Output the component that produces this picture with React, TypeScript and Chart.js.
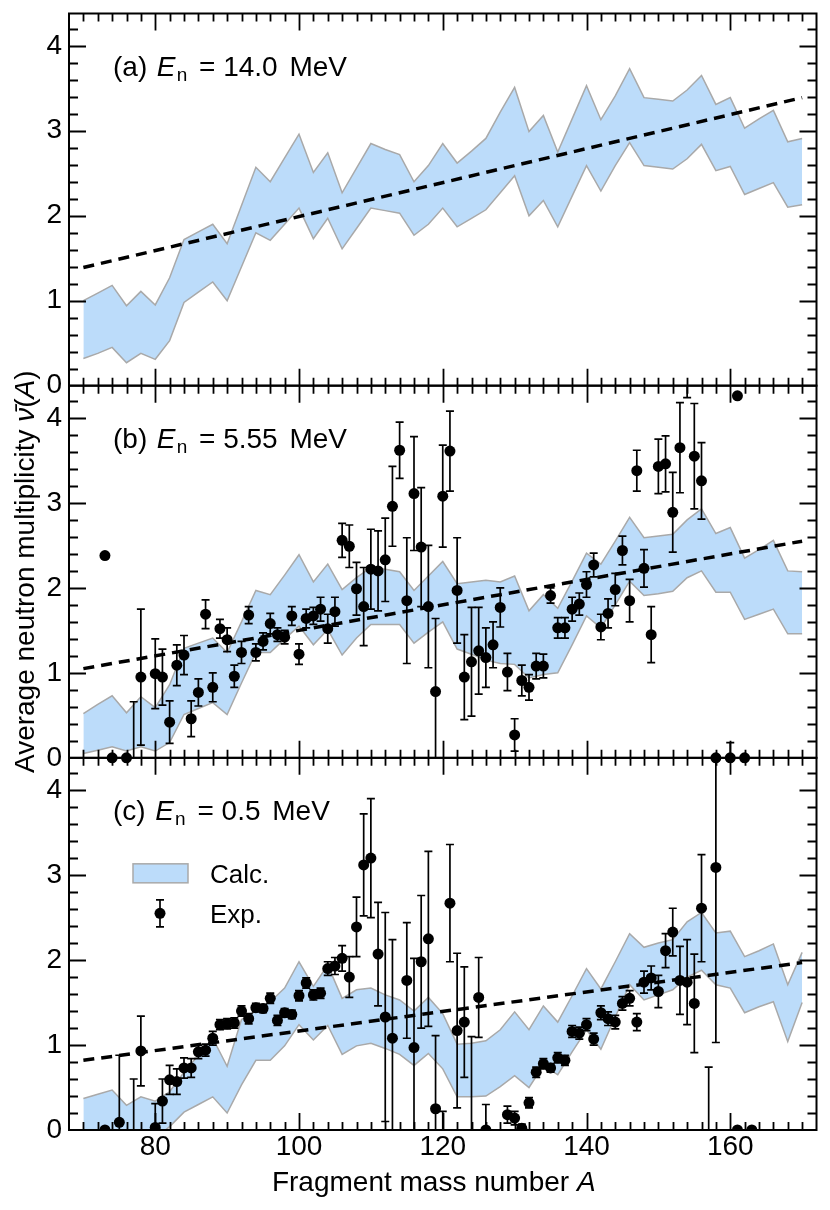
import React, { useEffect, useRef } from 'react';
import { Chart, registerables } from 'chart.js';

Chart.register(...registerables);

const FONT = "'Liberation Sans', Arial, Helvetica, sans-serif";
const BAND_FILL = '#bcdcfa';
const BAND_EDGE = '#a9a9a9';

// ---------- data ----------
const A_CALC = [70, 72, 74, 76, 78, 80, 82, 84, 86, 88, 90, 92, 94, 96, 98, 100, 102, 104, 106, 108, 110, 112, 114, 116, 118, 120, 122, 124, 126, 128, 130, 132, 134, 136, 138, 140, 142, 144, 146, 148, 150, 152, 154, 156, 158, 160, 162, 164, 166, 168, 170];

const CALC_A_HI = [1.00, 1.09, 1.18, 0.94, 1.11, 0.95, 1.27, 1.72, 1.81, 1.90, 1.67, 2.12, 2.57, 2.40, 2.68, 2.96, 2.51, 2.74, 2.27, 2.56, 2.85, 2.78, 2.72, 2.40, 2.59, 2.85, 2.62, 2.76, 2.91, 3.22, 3.51, 2.99, 3.18, 2.75, 3.14, 3.53, 3.13, 3.41, 3.73, 3.39, 3.37, 3.35, 3.48, 3.65, 3.31, 3.39, 3.03, 3.14, 3.24, 2.87, 2.91];
const CALC_A_LO = [0.32, 0.38, 0.45, 0.27, 0.38, 0.31, 0.53, 0.98, 1.10, 1.22, 1.00, 1.40, 1.80, 1.71, 1.90, 2.09, 1.73, 1.97, 1.61, 1.85, 2.09, 2.06, 2.03, 1.77, 1.90, 2.09, 1.87, 1.97, 2.07, 2.27, 2.47, 2.00, 2.18, 1.87, 2.23, 2.59, 2.29, 2.59, 2.86, 2.59, 2.57, 2.55, 2.67, 2.84, 2.53, 2.58, 2.25, 2.32, 2.39, 2.10, 2.13];

const CALC_B_HI = [0.52, 0.63, 0.73, 0.53, 0.72, 0.59, 0.86, 1.29, 1.35, 1.41, 1.24, 1.60, 1.97, 1.92, 2.15, 2.39, 2.07, 2.28, 1.98, 2.12, 2.24, 2.22, 2.19, 1.97, 2.14, 2.31, 2.05, 2.07, 2.09, 2.07, 2.14, 1.73, 1.92, 1.76, 2.08, 2.41, 2.28, 2.55, 2.83, 2.59, 2.61, 2.63, 2.80, 2.93, 2.64, 2.71, 2.35, 2.45, 2.56, 2.20, 2.19];
const CALC_B_LO = [0.05, 0.09, 0.13, 0.08, 0.13, 0.08, 0.18, 0.51, 0.58, 0.65, 0.51, 0.88, 1.24, 1.24, 1.40, 1.55, 1.33, 1.51, 1.21, 1.41, 1.57, 1.57, 1.57, 1.35, 1.48, 1.60, 1.28, 1.22, 1.15, 1.11, 1.10, 0.94, 0.98, 1.00, 1.33, 1.67, 1.53, 1.80, 2.08, 1.91, 1.93, 1.96, 2.12, 2.20, 1.95, 1.95, 1.63, 1.69, 1.75, 1.46, 1.46];

const CALC_C_HI = [0.37, 0.42, 0.47, 0.29, 0.39, 0.34, 0.45, 0.68, 0.88, 1.08, 0.75, 1.30, 1.40, 1.51, 1.67, 1.98, 1.69, 1.94, 1.55, 1.65, 1.67, 1.59, 1.53, 1.40, 1.56, 1.37, 1.01, 1.02, 1.05, 1.18, 1.39, 1.18, 1.46, 1.27, 1.58, 1.90, 1.66, 1.98, 2.31, 2.15, 2.20, 2.24, 2.45, 2.56, 2.32, 2.34, 2.04, 2.11, 2.19, 1.71, 2.09];
const CALC_C_LO = [-0.1, -0.1, -0.1, -0.1, -0.1, -0.1, 0.04, 0.21, 0.30, 0.39, 0.20, 0.53, 0.82, 0.82, 0.99, 1.24, 1.06, 1.23, 0.89, 0.99, 1.02, 0.96, 0.89, 0.76, 0.90, 0.72, 0.39, 0.39, 0.40, 0.51, 0.64, 0.50, 0.76, 0.65, 0.92, 1.18, 0.95, 1.33, 1.71, 1.53, 1.59, 1.65, 1.80, 1.88, 1.71, 1.67, 1.38, 1.45, 1.51, 1.04, 1.50];

const TREND_A = [70, 170];
const TREND_NU_A = [1.39, 3.39];
const TREND_NU_B = [1.05, 2.55];
const TREND_NU_C = [0.82, 1.97];

const EXP_B_A = [73, 74, 76, 77, 78, 80, 81, 82, 83, 84, 85, 86, 87, 88, 89, 90, 91, 92, 93, 94, 95, 96, 97, 98, 99, 100, 101, 102, 103, 104, 105, 106, 107, 108, 109, 110, 111, 112, 113, 114, 115, 116, 117, 118, 119, 120, 121, 122, 123, 124, 125, 126, 127, 128, 129, 130, 131, 132, 133, 134, 135, 136, 137, 138, 139, 140, 141, 142, 143, 144, 145, 146, 147, 148, 149, 150, 151, 152, 153, 154, 155, 156, 158, 160, 161, 162];
const EXP_B_NU = [2.38, 0, 0, -0.6, 0.95, 0.99, 0.95, 0.42, 1.09, 1.21, 0.46, 0.77, 1.69, 0.83, 1.52, 1.39, 0.96, 1.24, 1.68, 1.24, 1.37, 1.58, 1.45, 1.42, 1.67, 1.22, 1.64, 1.67, 1.75, 1.52, 1.72, 2.56, 2.49, 1.99, 1.78, 2.22, 2.20, 2.33, 2.96, 3.62, 1.85, 3.11, 2.48, 1.78, 0.78, 3.08, 3.61, 1.97, 0.95, 1.13, 1.26, 1.18, 1.33, 1.77, 1.01, 0.27, 0.91, 0.83, 1.08, 1.08, 1.91, 1.53, 1.53, 1.75, 1.81, 2.04, 2.27, 1.54, 1.70, 1.98, 2.44, 1.85, 3.38, 2.23, 1.45, 3.43, 3.46, 2.89, 3.65, 4.70, 3.55, 3.26, 0, 0, 4.26, 0];
const EXP_B_ERR = [0, 0, 0, 1.26, 0.80, 0.41, 0.33, 0.25, 0.24, 0.23, 0.21, 0.16, 0.17, 0.17, 0.11, 0.14, 0.13, 0.13, 0.10, 0.10, 0.10, 0.12, 0.08, 0.08, 0.11, 0.12, 0.11, 0.10, 0.14, 0.17, 0.17, 0.20, 0.25, 0.31, 0.46, 0.47, 0.47, 0.49, 0.47, 0.33, 0.74, 0.67, 0.70, 0.72, 0.86, 0.60, 0.47, 0.62, 0.50, 0.64, 0.51, 0.35, 0.27, 0.23, 0.22, 0.19, 0.18, 0.15, 0.15, 0.14, 0.09, 0.12, 0.12, 0.14, 0.13, 0.15, 0.14, 0.15, 0.17, 0.19, 0.17, 0.25, 0.24, 0.22, 0.33, 0.32, 0.33, 0.47, 0.53, 0.46, 0.62, 0.45, 0, 0.18, 0, 0];

const EXP_C_A = [73, 75, 77, 78, 80, 81, 82, 83, 84, 85, 86, 87, 88, 89, 90, 91, 92, 93, 94, 95, 96, 97, 98, 99, 100, 101, 102, 103, 104, 105, 106, 107, 108, 109, 110, 111, 112, 113, 115, 116, 117, 118, 119, 120, 121, 122, 123, 124, 125, 126, 129, 130, 131, 132, 133, 134, 135, 136, 137, 138, 139, 140, 141, 142, 143, 144, 145, 146, 147, 148, 149, 150, 151, 152, 153, 154, 155, 156, 157, 158, 161, 163];
const EXP_C_NU = [0, 0.09, -0.5, 0.93, 0.03, 0.34, 0.59, 0.57, 0.73, 0.73, 0.92, 0.94, 1.08, 1.24, 1.25, 1.26, 1.40, 1.31, 1.44, 1.43, 1.55, 1.29, 1.38, 1.36, 1.58, 1.73, 1.59, 1.61, 1.90, 1.93, 2.02, 1.80, 2.39, 3.12, 3.20, 2.07, 1.33, 1.08, 1.76, 0.97, 1.98, 2.25, 0.25, -0.3, 2.67, 1.17, 1.27, -0.3, 1.56, 0, 0.18, 0.14, 0.02, 0.32, 0.68, 0.78, 0.73, 0.85, 0.82, 1.16, 1.14, 1.24, 1.07, 1.38, 1.31, 1.27, 1.49, 1.55, 1.27, 1.74, 1.79, 1.63, 2.11, 2.33, 1.76, 1.74, 1.49, 2.61, -0.3, 3.09, 0, 0];
const EXP_C_ERR = [0, 0.79, 1.10, 0.41, 0.28, 0.26, 0.17, 0.15, 0.12, 0.11, 0.08, 0.07, 0.08, 0.06, 0.06, 0.06, 0.06, 0.06, 0.05, 0.05, 0.06, 0.06, 0.05, 0.05, 0.06, 0.06, 0.06, 0.06, 0.08, 0.10, 0.15, 0.24, 0.35, 0.60, 0.70, 0.61, 1.23, 1.16, 0.68, 1.05, 0.78, 1.03, 0.86, 0.52, 0.69, 0.91, 0.65, 1.40, 0.47, 0.30, 0.10, 0.08, 0.05, 0.06, 0.06, 0.06, 0.05, 0.06, 0.06, 0.07, 0.07, 0.07, 0.07, 0.08, 0.08, 0.08, 0.08, 0.09, 0.10, 0.13, 0.14, 0.19, 0.20, 0.28, 0.40, 0.50, 0.58, 0.63, 1.04, 2.06, 0, 0];

const PANEL_TAGS = ['(a)', '(b)', '(c)'];
const PANEL_ENERGIES = ['14.0', '5.55', '0.5'];
const LEGEND_LABELS = ['Calc.', 'Exp.'];
const X_TITLE = 'Fragment mass number ';
const Y_TITLE = 'Average neutron multiplicity ';

// ---------- helpers ----------
type Run = { t: string; f: string; pre?: number; dy?: number };

function drawRuns(ctx: CanvasRenderingContext2D, runs: Run[], x: number, y: number) {
  let cx = x;
  for (const r of runs) {
    cx += r.pre || 0;
    ctx.font = r.f;
    ctx.fillText(r.t, cx, y + (r.dy || 0));
    cx += ctx.measureText(r.t).width;
  }
  return cx - x;
}
function runsWidth(ctx: CanvasRenderingContext2D, runs: Run[]) {
  let w = 0;
  for (const r of runs) {
    w += r.pre || 0;
    ctx.font = r.f;
    w += ctx.measureText(r.t).width;
  }
  return w;
}

const PANEL_IDS = ['yA', 'yB', 'yC'];

const framePlugin = {
  id: 'frameTicksErrors',
  afterDatasetsDraw(chart: any) {
    const ctx: CanvasRenderingContext2D = chart.ctx;
    const xs = chart.scales.x;
    // error bars
    chart.data.datasets.forEach((ds: any) => {
      if (!ds.errors) return;
      const ys = chart.scales[ds.yAxisID];
      ctx.save();
      ctx.beginPath();
      ctx.rect(xs.left, ys.top, xs.right - xs.left, ys.bottom - ys.top);
      ctx.clip();
      ctx.strokeStyle = '#000';
      ctx.lineWidth = 1.7;
      ds.data.forEach((p: any, j: number) => {
        const e = ds.errors[j];
        if (!e) return;
        const px = xs.getPixelForValue(p.x);
        const t = ys.getPixelForValue(p.y + e);
        const b = ys.getPixelForValue(p.y - e);
        ctx.beginPath();
        ctx.moveTo(px, t);
        ctx.lineTo(px, b);
        ctx.moveTo(px - 4, t);
        ctx.lineTo(px + 4, t);
        ctx.moveTo(px - 4, b);
        ctx.lineTo(px + 4, b);
        ctx.stroke();
      });
      ctx.restore();
    });
    // frames and inward ticks
    ctx.save();
    ctx.strokeStyle = '#000';
    for (const id of PANEL_IDS) {
      const ys = chart.scales[id];
      ctx.lineWidth = 1.8;
      ctx.beginPath();
      for (let v = 70; v <= 170; v += 2) {
        const len = v % 20 === 0 ? 17 : 8;
        const px = Math.round(xs.getPixelForValue(v)) + 0.5;
        ctx.moveTo(px, ys.top);
        ctx.lineTo(px, ys.top + len);
        ctx.moveTo(px, ys.bottom);
        ctx.lineTo(px, ys.bottom - len);
      }
      for (let k = 1; k <= 21; k++) {
        const v = k * 0.2;
        if (v > ys.max) break;
        const len = k % 5 === 0 ? 17 : 9;
        const py = Math.round(ys.getPixelForValue(v)) + 0.5;
        ctx.moveTo(xs.left, py);
        ctx.lineTo(xs.left + len, py);
        ctx.moveTo(xs.right, py);
        ctx.lineTo(xs.right - len, py);
      }
      ctx.stroke();
      ctx.lineWidth = 2;
      ctx.strokeRect(xs.left, ys.top, xs.right - xs.left, ys.bottom - ys.top);
    }
    ctx.restore();
  },
  afterDraw(chart: any) {
    const ctx: CanvasRenderingContext2D = chart.ctx;
    const xs = chart.scales.x;
    const reg = `28px ${FONT}`;
    const ital = `italic 28px ${FONT}`;
    const sub = `19px ${FONT}`;
    ctx.save();
    ctx.fillStyle = '#000';
    ctx.textBaseline = 'alphabetic';
    ctx.textAlign = 'left';
    // panel annotations
    PANEL_IDS.forEach((id, i) => {
      const ys = chart.scales[id];
      const x0 = xs.left + 44;
      const y0 = ys.top + 62;
      drawRuns(ctx, [
        { t: PANEL_TAGS[i] + ' ', f: reg },
        { t: 'E', f: ital, pre: 1.7 },
        { t: 'n', f: sub, pre: 1.3, dy: 5 },
        { t: ' = ', f: reg, pre: 4 },
        { t: PANEL_ENERGIES[i], f: reg },
        { t: ' MeV', f: reg, pre: 4 },
      ], x0, y0);
    });
    // legend in panel (c)
    const yc = chart.scales.yC;
    const bx = xs.left + 64;
    const by = yc.top + 106;
    ctx.fillStyle = BAND_FILL;
    ctx.fillRect(bx, by, 55, 19);
    ctx.strokeStyle = BAND_EDGE;
    ctx.lineWidth = 1.5;
    ctx.strokeRect(bx, by, 55, 19);
    ctx.fillStyle = '#000';
    ctx.font = `26px ${FONT}`;
    ctx.fillText(LEGEND_LABELS[0], xs.left + 141, yc.top + 125);
    ctx.fillText(LEGEND_LABELS[1], xs.left + 141, yc.top + 165);
    const mx = xs.left + 91;
    const my = yc.top + 155.5;
    ctx.strokeStyle = '#000';
    ctx.lineWidth = 1.7;
    ctx.beginPath();
    ctx.moveTo(mx, my - 13.5);
    ctx.lineTo(mx, my + 13.5);
    ctx.moveTo(mx - 4, my - 13.5);
    ctx.lineTo(mx + 4, my - 13.5);
    ctx.moveTo(mx - 4, my + 13.5);
    ctx.lineTo(mx + 4, my + 13.5);
    ctx.stroke();
    ctx.beginPath();
    ctx.arc(mx, my, 5.5, 0, Math.PI * 2);
    ctx.fill();
    // x title
    const xRuns: Run[] = [
      { t: X_TITLE, f: reg },
      { t: 'A', f: ital },
    ];
    const xw = runsWidth(ctx, xRuns);
    drawRuns(ctx, xRuns, (xs.left + xs.right) / 2 - 9 - xw / 2, chart.chartArea.bottom + 60.7);
    // y title
    const yb = chart.scales.yB;
    const yRuns: Run[] = [
      { t: Y_TITLE, f: reg },
      { t: '\u03BD\u0304', f: ital },
      { t: '(', f: reg },
      { t: 'A', f: ital },
      { t: ')', f: reg },
    ];
    const yw = runsWidth(ctx, yRuns);
    ctx.translate(xs.left - 35.5, (yb.top + yb.bottom) / 2);
    ctx.rotate(-Math.PI / 2);
    drawRuns(ctx, yRuns, -yw / 2, 0);
    ctx.restore();
  },
};

const Y_MAX = 4.38;

function makeY() {
  return {
    type: 'linear',
    position: 'left',
    stack: 'panels',
    stackWeight: 1,
    min: 0,
    max: Y_MAX,
    ticks: {
      stepSize: 1,
      includeBounds: false,
      color: '#000',
      font: { size: 28, family: FONT },
      padding: 7,
    },
    grid: { display: false, drawTicks: false },
    border: { display: false },
    afterFit: (s: any) => {
      s.width = 61;
      s.paddingTop = 0;
      s.paddingBottom = 0;
      s.paddingLeft = 0;
      s.paddingRight = 0;
    },
  };
}

export default function App() {
  const canvasRef = useRef<HTMLCanvasElement | null>(null);

  useEffect(() => {
    const canvas = canvasRef.current;
    if (!canvas) return;
    Chart.defaults.font.family = FONT;
    const pts = (xs: number[], ys: number[]) => xs.map((x, i) => ({ x, y: ys[i] }));

    const datasets: any[] = [];
    // experimental points (top-most)
    datasets.push({
      label: 'Exp. (b)',
      data: pts(EXP_B_A, EXP_B_NU),
      errors: EXP_B_ERR,
      yAxisID: 'yB',
      xAxisID: 'x',
      pointRadius: 5.5,
      pointBackgroundColor: '#000',
      pointBorderWidth: 0,
      showLine: false,
      clip: { left: 0, right: 0, top: 6, bottom: 6 },
      order: 0,
    });
    datasets.push({
      label: 'Exp. (c)',
      data: pts(EXP_C_A, EXP_C_NU),
      errors: EXP_C_ERR,
      yAxisID: 'yC',
      xAxisID: 'x',
      pointRadius: 5.5,
      pointBackgroundColor: '#000',
      pointBorderWidth: 0,
      showLine: false,
      clip: { left: 0, right: 0, top: 6, bottom: 0 },
      order: 0,
    });
    // trend lines
    const trends: [string, number[]][] = [
      ['yA', TREND_NU_A],
      ['yB', TREND_NU_B],
      ['yC', TREND_NU_C],
    ];
    trends.forEach(([id, nu]) => {
      datasets.push({
        label: 'trend ' + id,
        data: pts(TREND_A, nu),
        yAxisID: id,
        xAxisID: 'x',
        showLine: true,
        borderColor: '#000',
        borderWidth: 3.5,
        borderDash: [11, 7],
        pointRadius: 0,
        fill: false,
        order: 1,
      });
    });
    // calculated bands
    const bands: [string, number[], number[]][] = [
      ['yA', CALC_A_LO, CALC_A_HI],
      ['yB', CALC_B_LO, CALC_B_HI],
      ['yC', CALC_C_LO, CALC_C_HI],
    ];
    bands.forEach(([id, lo, hi]) => {
      datasets.push({
        label: 'Calc. low ' + id,
        data: pts(A_CALC, lo),
        yAxisID: id,
        xAxisID: 'x',
        showLine: true,
        borderColor: BAND_EDGE,
        borderWidth: 1.5,
        pointRadius: 0,
        fill: false,
        order: 2,
      });
      datasets.push({
        label: 'Calc. ' + id,
        data: pts(A_CALC, hi),
        yAxisID: id,
        xAxisID: 'x',
        showLine: true,
        borderColor: BAND_EDGE,
        borderWidth: 1.5,
        backgroundColor: BAND_FILL,
        pointRadius: 0,
        fill: '-1',
        order: 2,
      });
    });

    const chart = new Chart(canvas, {
      type: 'scatter',
      data: { datasets },
      options: {
        animation: false,
        responsive: true,
        maintainAspectRatio: false,
        events: [],
        layout: { padding: { top: 3, right: 3, left: 0, bottom: 0 } },
        plugins: {
          legend: { display: false },
          tooltip: { enabled: false },
        },
        scales: {
          x: {
            type: 'linear',
            position: 'bottom',
            min: 68,
            max: 172,
            ticks: {
              stepSize: 20,
              includeBounds: false,
              color: '#000',
              font: { size: 28, family: FONT },
              padding: 0,
              maxRotation: 0,
            },
            grid: { display: false, drawTicks: false },
            border: { display: false },
            afterFit: (s: any) => {
              s.height = 72;
              s.paddingLeft = 0;
              s.paddingRight = 0;
              s.paddingTop = 0;
              s.paddingBottom = 0;
            },
          },
          yC: makeY(),
          yB: makeY(),
          yA: makeY(),
        } as any,
      },
      plugins: [framePlugin],
    } as any);

    return () => {
      chart.destroy();
    };
  }, []);

  return (
    <div style={{ position: 'relative', width: 814, height: 1194 }}>
      <canvas ref={canvasRef} />
    </div>
  );
}
